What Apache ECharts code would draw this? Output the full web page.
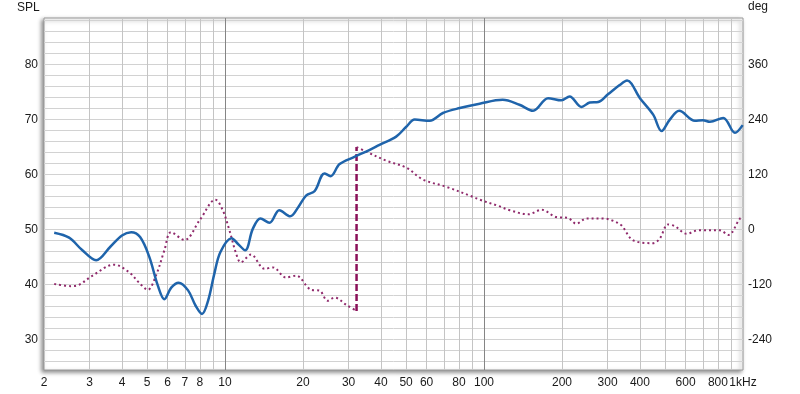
<!DOCTYPE html>
<html><head><meta charset="utf-8">
<script src="https://cdn.jsdelivr.net/npm/echarts@6/dist/echarts.min.js"></script>
<style>html,body{margin:0;padding:0;background:#fff}#c{width:800px;height:394px}</style>
</head><body><div id="c"></div>
<script>
// SPL (dB), left axis
const splFreq = [2.19, 2.5, 2.8, 3.18, 3.6, 4.0, 4.34, 4.7, 5.1, 5.5, 5.83, 6.2, 6.62, 7.2, 7.7, 8.15, 8.6, 9.1, 9.6, 10.6, 11.2, 11.96, 12.8, 13.7, 14.85, 16.2, 17.85, 19.2, 20.6, 22.2, 24.2, 25.55, 27.7, 31.6, 36.2, 39.5, 45.8, 50.1, 54.0, 61.7, 69.4, 80.6, 96.2, 118, 137, 154.7, 176.8, 199, 214, 238, 256, 276, 301, 334, 357, 400, 450, 485, 520, 567, 652, 700, 745, 839, 931, 997];
const splDb   = [49.4, 48.5, 46.3, 44.4, 46.8, 48.9, 49.5, 48.6, 45.0, 39.8, 37.3, 39.4, 40.3, 38.9, 36.1, 34.6, 37.0, 42.0, 45.9, 48.4, 47.4, 46.2, 50.1, 52.0, 51.2, 53.5, 52.4, 54.1, 56.2, 57.0, 60.2, 59.7, 61.9, 63.2, 64.5, 65.4, 66.9, 68.7, 70.0, 69.8, 71.2, 72.1, 72.9, 73.6, 72.7, 71.6, 73.9, 73.5, 74.2, 72.3, 73.1, 73.2, 74.6, 76.3, 77.1, 73.9, 70.9, 67.9, 69.9, 71.6, 69.8, 69.9, 69.6, 70.3, 67.6, 69.0];
// Phase (deg), right axis, before the wrap
const phaseFreqA = [2.19, 2.54, 2.73, 3.08, 3.73, 4.27, 4.65, 5.03, 5.41, 5.83, 6.19, 6.97, 7.98, 9.18, 9.8, 10.4, 11.04, 11.5, 12.6, 14.2, 15.3, 17.2, 18.8, 21.5, 23.2, 24.9, 26.5, 29.4, 32.2];
const phaseDegA  = [-119, -124, -121, -101, -77, -94, -116, -132, -101, -46, -6, -23, 20, 65, 42, -2, -53, -72, -55, -86, -83, -105, -101, -132, -134, -156, -149, -165, -178];
// Phase wrap segment
const wrapFreq = [32.2, 32.2];
const wrapDeg  = [-178, 180];
// Phase (deg), after the wrap
const phaseFreqB = [32.2, 35.1, 42.0, 50.1, 58.1, 71.6, 90.7, 96.2, 114, 125.7, 148, 167, 190, 211, 227, 249, 293, 311, 339, 377, 450, 477, 514, 546, 606, 672, 815, 878, 973, 1000];
const phaseDegB  = [180, 170, 150, 135, 109, 93, 71, 65, 51, 42, 33, 43, 27, 25, 12.5, 24, 23.5, 20, 9, -24, -30, -20, 11, 7, -9.5, -2, -2, -12, 23.5, 26];
// Ticks / grid
const xGridMinor = [3,4,5,6,7,8,9,20,30,40,50,60,70,80,90,200,300,400,500,600,700,800,900];
const xGridMajor = [10, 100];
const xLabels = [2,3,4,5,6,7,8,10,20,30,40,50,60,80,100,200,300,400,600,800,1000];
const splGrid = [26,28,30,32,34,36,38,40,42,44,46,48,50,52,54,56,58,60,62,64,66,68,70,72,74,76,78,80,82,84,86,88];
const splLabels = [30,40,50,60,70,80];
const degLabels = [-240,-120,0,120,240,360];

const zip = (a, b) => a.map((v, i) => [v, b[i]]);
const FONT = 'Liberation Sans';
const chart = echarts.init(document.getElementById('c'), null, {renderer: 'canvas'});
chart.setOption({
  animation: false,
  backgroundColor: '#fff',
  textStyle: {fontFamily: FONT},
  title: [
    {text: 'SPL', left: 17, top: 2, padding: 0, textStyle: {fontSize: 12, fontWeight: 'normal', color: '#1a1a1a', fontFamily: FONT}},
    {text: 'deg', left: 748, top: 1, padding: 0, textStyle: {fontSize: 12, fontWeight: 'normal', color: '#1a1a1a', fontFamily: FONT}}
  ],
  grid: {left: 44, right: 57, top: 18, bottom: 24, show: true, backgroundColor: '#fff',
    borderColor: '#9a9a9a', borderWidth: 1,
    shadowColor: 'rgba(0,0,0,0.45)', shadowBlur: 4, shadowOffsetX: -2, shadowOffsetY: 2},
  xAxis: [
    {type: 'log', logBase: 10, min: 2, max: 1000, position: 'bottom',
     axisLine: {show: false}, axisTick: {show: false, customValues: xGridMinor},
     splitLine: {show: true, lineStyle: {color: '#c4c4c4', width: 1}},
     axisLabel: {customValues: xLabels, margin: 7, fontSize: 12, color: '#1a1a1a', fontFamily: FONT,
       formatter: v => { const r = Math.round(v); return r >= 1000 ? '1kHz' : String(r); }}},
    {type: 'log', logBase: 10, min: 2, max: 1000, position: 'bottom',
     axisLine: {show: false}, axisTick: {show: false, customValues: xGridMajor},
     splitLine: {show: true, lineStyle: {color: '#858585', width: 1}},
     axisLabel: {show: false}}
  ],
  yAxis: [
    {type: 'value', min: 24.4, max: 88.5, position: 'left',
     axisLine: {show: false}, axisTick: {show: false, customValues: splGrid},
     splitLine: {show: true, lineStyle: {color: '#d2d2d2', width: 1}},
     axisLabel: {customValues: splLabels, margin: 6, fontSize: 12, color: '#1a1a1a', fontFamily: FONT}},
    {type: 'value', min: -307.2, max: 462, position: 'right',
     axisLine: {show: false}, axisTick: {show: false, customValues: degLabels},
     splitLine: {show: false},
     axisLabel: {customValues: degLabels, margin: 5, fontSize: 12, color: '#1a1a1a', fontFamily: FONT}}
  ],
  series: [
    {name: 'phaseA', type: 'line', xAxisIndex: 0, yAxisIndex: 1, data: zip(phaseFreqA, phaseDegA),
     smooth: 0.35, showSymbol: false, lineStyle: {color: '#902a6c', width: 2, type: [2, 3]}},
    {name: 'wrap', type: 'line', xAxisIndex: 0, yAxisIndex: 1, data: zip(wrapFreq, wrapDeg),
     showSymbol: false, lineStyle: {color: '#8a0f58', width: 2.5, type: [7, 3]}},
    {name: 'phaseB', type: 'line', xAxisIndex: 0, yAxisIndex: 1, data: zip(phaseFreqB, phaseDegB),
     smooth: 0.35, showSymbol: false, lineStyle: {color: '#902a6c', width: 2, type: [2, 3]}},
    {name: 'SPL', type: 'line', xAxisIndex: 0, yAxisIndex: 0, data: zip(splFreq, splDb),
     smooth: 0.35, showSymbol: false, lineStyle: {color: '#1f64ab', width: 2.5}}
  ]
});
</script>
</body></html>
